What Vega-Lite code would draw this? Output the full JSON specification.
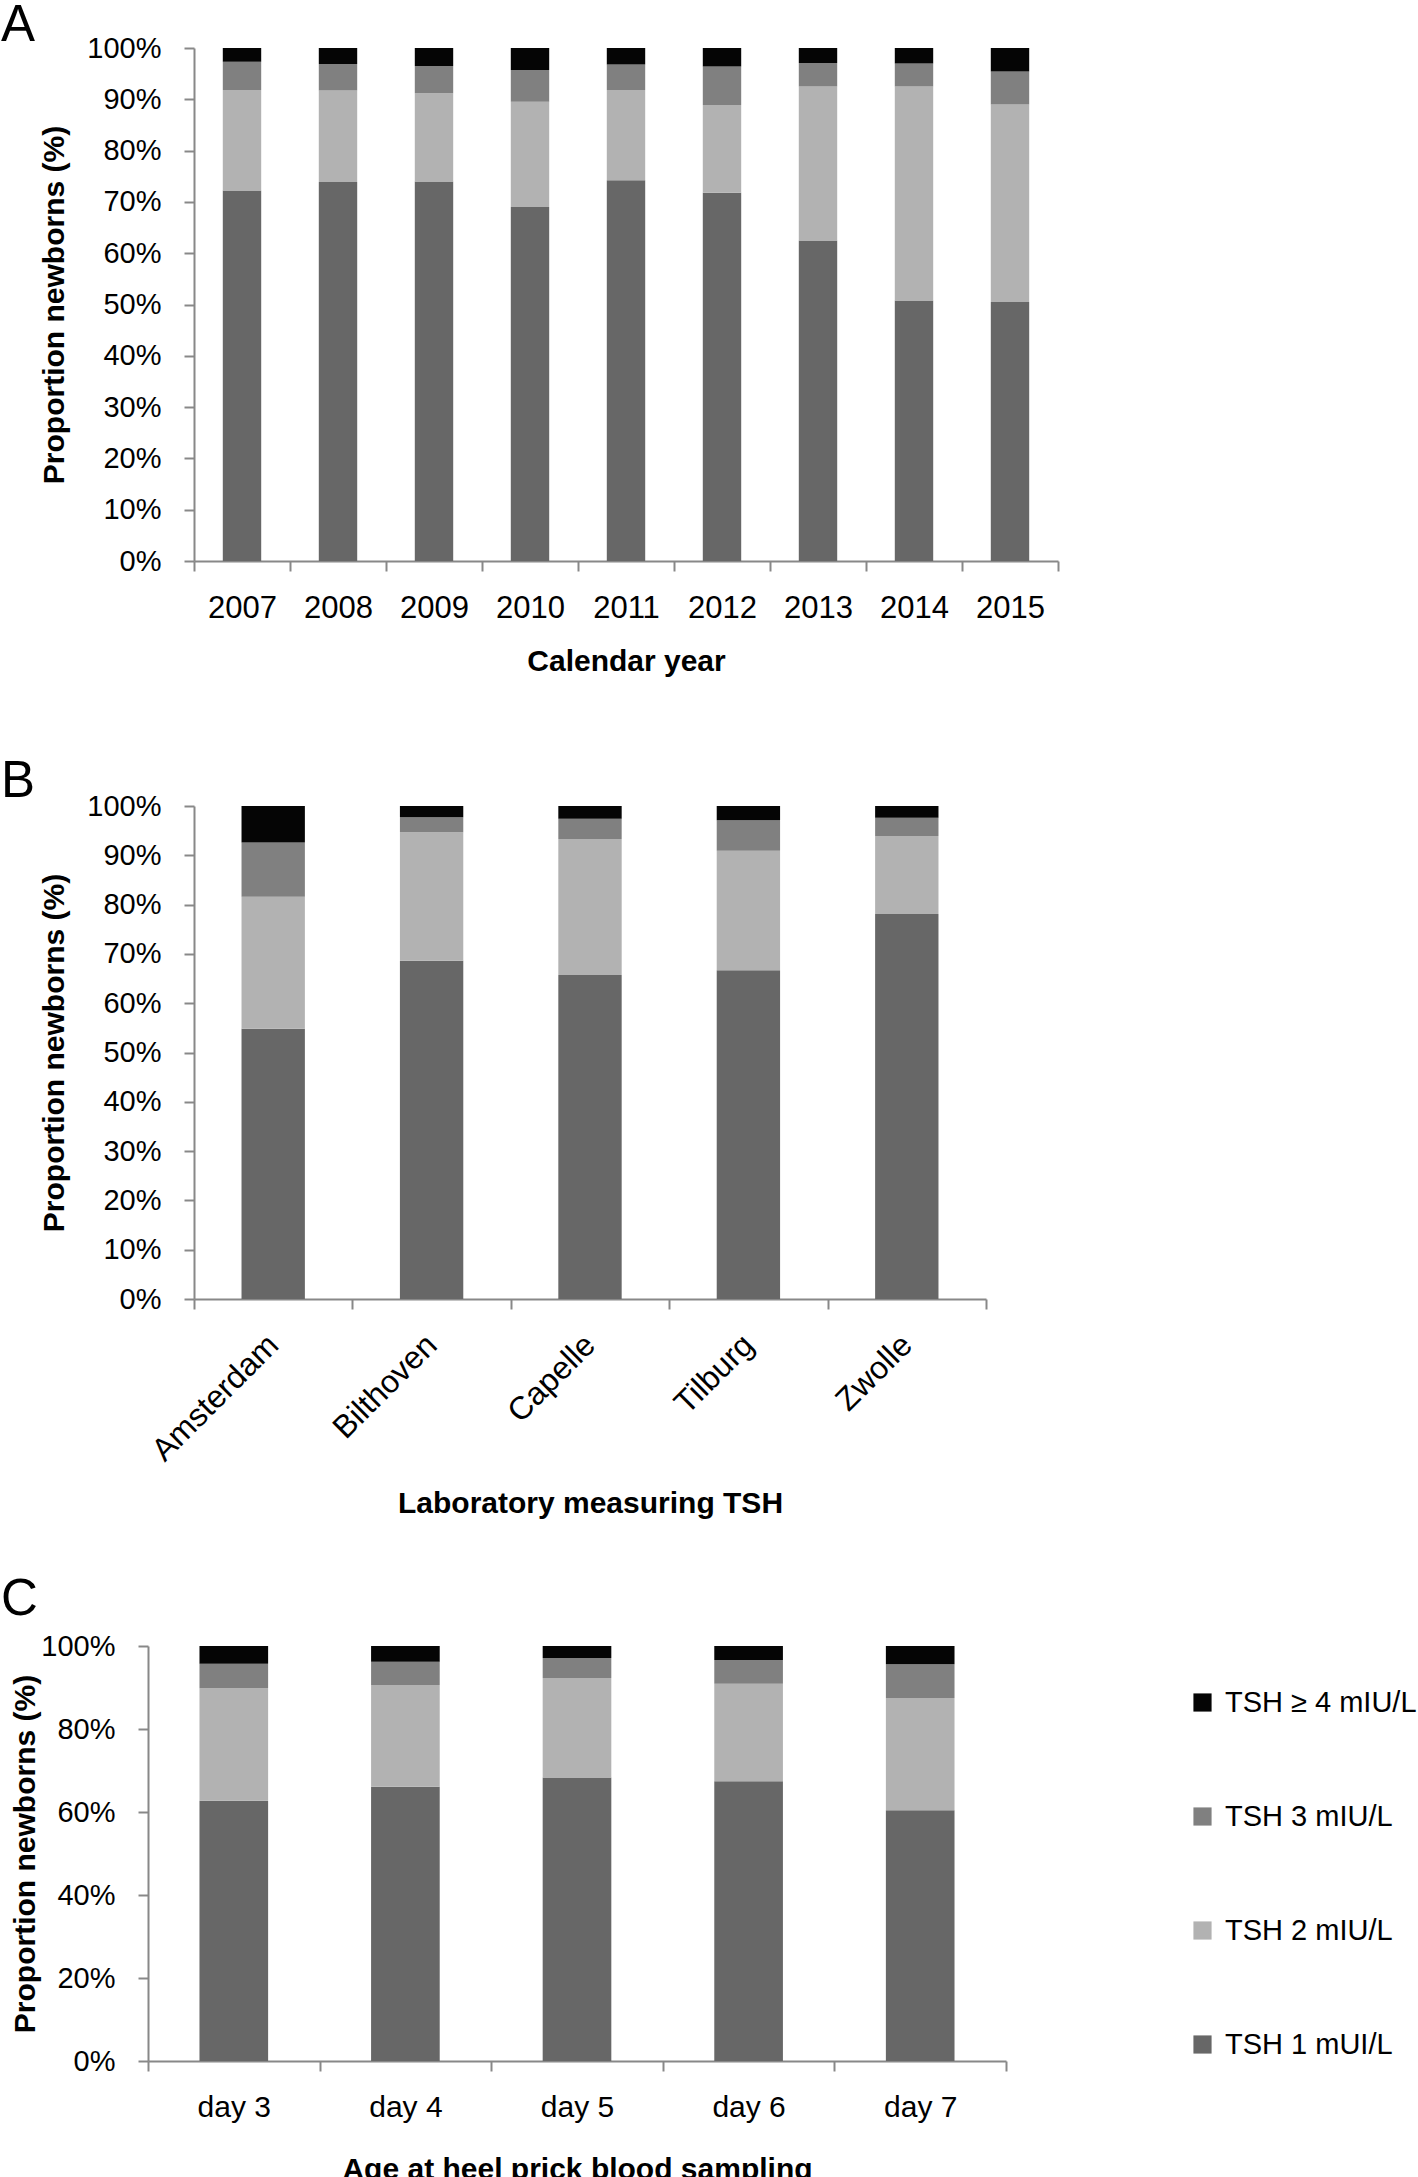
{
  "$schema": "https://vega.github.io/schema/vega-lite/v6.json",
  "padding": 0,
  "background": "white",
  "config": {
    "view": {"stroke": null},
    "font": "Liberation Sans",
    "axis": {
      "domainColor": "#888888", "domainWidth": 2,
      "tickColor": "#888888", "tickWidth": 2, "tickSize": 10,
      "labelColor": "#000000", "titleColor": "#000000",
      "grid": false,
      "labelFont": "Liberation Sans", "titleFont": "Liberation Sans",
      "titleFontWeight": "bold", "titleFontSize": 30
    },
    "title": {"anchor": "start", "frame": "group", "fontSize": 51, "fontWeight": "normal", "baseline": "alphabetic", "offset": 0, "color": "#000000", "font": "Liberation Sans"},
    "bar": {"stroke": null}
  },
  "spacing": 80,
  "resolve": {"scale": {"color": "independent"}},
  "vconcat": [
    {
      "spacing": 0,
      "resolve": {"scale": {"color": "independent"}},
      "hconcat": [
        {"width": 1, "height": 1, "data": {"values": []}, "mark": {"type": "point", "opacity": 0, "size": 0}, "encoding": {}},
        {
          "width": 864, "height": 513,
          "title": {"text": "A", "dx": -193, "dy": 22},
          "data": {"values": [
            {"group": "2007", "level": "TSH 1 mUI/L", "k": 1, "pct": 72.2},
            {"group": "2007", "level": "TSH 2 mIU/L", "k": 2, "pct": 19.6},
            {"group": "2007", "level": "TSH 3 mIU/L", "k": 3, "pct": 5.5},
            {"group": "2007", "level": "TSH ≥ 4 mIU/L", "k": 4, "pct": 2.7},
            {"group": "2008", "level": "TSH 1 mUI/L", "k": 1, "pct": 73.9},
            {"group": "2008", "level": "TSH 2 mIU/L", "k": 2, "pct": 17.8},
            {"group": "2008", "level": "TSH 3 mIU/L", "k": 3, "pct": 5.2},
            {"group": "2008", "level": "TSH ≥ 4 mIU/L", "k": 4, "pct": 3.1},
            {"group": "2009", "level": "TSH 1 mUI/L", "k": 1, "pct": 74.0},
            {"group": "2009", "level": "TSH 2 mIU/L", "k": 2, "pct": 17.2},
            {"group": "2009", "level": "TSH 3 mIU/L", "k": 3, "pct": 5.3},
            {"group": "2009", "level": "TSH ≥ 4 mIU/L", "k": 4, "pct": 3.5},
            {"group": "2010", "level": "TSH 1 mUI/L", "k": 1, "pct": 69.0},
            {"group": "2010", "level": "TSH 2 mIU/L", "k": 2, "pct": 20.5},
            {"group": "2010", "level": "TSH 3 mIU/L", "k": 3, "pct": 6.2},
            {"group": "2010", "level": "TSH ≥ 4 mIU/L", "k": 4, "pct": 4.3},
            {"group": "2011", "level": "TSH 1 mUI/L", "k": 1, "pct": 74.2},
            {"group": "2011", "level": "TSH 2 mIU/L", "k": 2, "pct": 17.6},
            {"group": "2011", "level": "TSH 3 mIU/L", "k": 3, "pct": 5.0},
            {"group": "2011", "level": "TSH ≥ 4 mIU/L", "k": 4, "pct": 3.2},
            {"group": "2012", "level": "TSH 1 mUI/L", "k": 1, "pct": 71.8},
            {"group": "2012", "level": "TSH 2 mIU/L", "k": 2, "pct": 17.1},
            {"group": "2012", "level": "TSH 3 mIU/L", "k": 3, "pct": 7.5},
            {"group": "2012", "level": "TSH ≥ 4 mIU/L", "k": 4, "pct": 3.6},
            {"group": "2013", "level": "TSH 1 mUI/L", "k": 1, "pct": 62.5},
            {"group": "2013", "level": "TSH 2 mIU/L", "k": 2, "pct": 30.0},
            {"group": "2013", "level": "TSH 3 mIU/L", "k": 3, "pct": 4.6},
            {"group": "2013", "level": "TSH ≥ 4 mIU/L", "k": 4, "pct": 2.9},
            {"group": "2014", "level": "TSH 1 mUI/L", "k": 1, "pct": 50.8},
            {"group": "2014", "level": "TSH 2 mIU/L", "k": 2, "pct": 41.7},
            {"group": "2014", "level": "TSH 3 mIU/L", "k": 3, "pct": 4.5},
            {"group": "2014", "level": "TSH ≥ 4 mIU/L", "k": 4, "pct": 3.0},
            {"group": "2015", "level": "TSH 1 mUI/L", "k": 1, "pct": 50.5},
            {"group": "2015", "level": "TSH 2 mIU/L", "k": 2, "pct": 38.5},
            {"group": "2015", "level": "TSH 3 mIU/L", "k": 3, "pct": 6.4},
            {"group": "2015", "level": "TSH ≥ 4 mIU/L", "k": 4, "pct": 4.6}
          ]},
          "mark": {"type": "bar", "width": {"band": 0.4}},
          "encoding": {
            "x": {"field": "group", "type": "ordinal", "scale": {"paddingInner": 0, "paddingOuter": 0},
              "axis": {"title": "Calendar year", "labelAngle": 0, "labelFontSize": 31, "labelPadding": 22, "titlePadding": 23, "tickBand": "extent"}},
            "y": {"field": "pct", "type": "quantitative", "stack": "zero", "scale": {"domain": [0, 100], "nice": false},
              "axis": {"title": "Proportion newborns (%)", "values": [0, 10, 20, 30, 40, 50, 60, 70, 80, 90, 100], "labelExpr": "datum.value + '%'", "labelFontSize": 29, "labelPadding": 23, "titlePadding": 17}},
            "color": {"field": "level", "type": "nominal",
              "scale": {"domain": ["TSH ≥ 4 mIU/L", "TSH 3 mIU/L", "TSH 2 mIU/L", "TSH 1 mUI/L"], "range": ["#050505", "#808080", "#b2b2b2", "#676767"]},
              "legend": null},
            "order": {"field": "k", "type": "quantitative"}
          }
        }
      ]
    },
    {
      "spacing": 55,
      "resolve": {"scale": {"color": "independent"}},
      "vconcat": [
        {
          "spacing": 0,
          "resolve": {"scale": {"color": "independent"}},
          "hconcat": [
            {"width": 1, "height": 1, "data": {"values": []}, "mark": {"type": "point", "opacity": 0, "size": 0}, "encoding": {}},
            {
              "width": 792, "height": 493,
              "title": {"text": "B", "dx": -193, "dy": 20},
              "data": {"values": [
                {"group": "Amsterdam", "level": "TSH 1 mUI/L", "k": 1, "pct": 54.8},
                {"group": "Amsterdam", "level": "TSH 2 mIU/L", "k": 2, "pct": 26.8},
                {"group": "Amsterdam", "level": "TSH 3 mIU/L", "k": 3, "pct": 11.0},
                {"group": "Amsterdam", "level": "TSH ≥ 4 mIU/L", "k": 4, "pct": 7.4},
                {"group": "Bilthoven", "level": "TSH 1 mUI/L", "k": 1, "pct": 68.6},
                {"group": "Bilthoven", "level": "TSH 2 mIU/L", "k": 2, "pct": 26.1},
                {"group": "Bilthoven", "level": "TSH 3 mIU/L", "k": 3, "pct": 3.0},
                {"group": "Bilthoven", "level": "TSH ≥ 4 mIU/L", "k": 4, "pct": 2.3},
                {"group": "Capelle", "level": "TSH 1 mUI/L", "k": 1, "pct": 65.7},
                {"group": "Capelle", "level": "TSH 2 mIU/L", "k": 2, "pct": 27.6},
                {"group": "Capelle", "level": "TSH 3 mIU/L", "k": 3, "pct": 4.1},
                {"group": "Capelle", "level": "TSH ≥ 4 mIU/L", "k": 4, "pct": 2.6},
                {"group": "Tilburg", "level": "TSH 1 mUI/L", "k": 1, "pct": 66.7},
                {"group": "Tilburg", "level": "TSH 2 mIU/L", "k": 2, "pct": 24.2},
                {"group": "Tilburg", "level": "TSH 3 mIU/L", "k": 3, "pct": 6.2},
                {"group": "Tilburg", "level": "TSH ≥ 4 mIU/L", "k": 4, "pct": 2.9},
                {"group": "Zwolle", "level": "TSH 1 mUI/L", "k": 1, "pct": 78.1},
                {"group": "Zwolle", "level": "TSH 2 mIU/L", "k": 2, "pct": 15.8},
                {"group": "Zwolle", "level": "TSH 3 mIU/L", "k": 3, "pct": 3.7},
                {"group": "Zwolle", "level": "TSH ≥ 4 mIU/L", "k": 4, "pct": 2.4}
              ]},
              "mark": {"type": "bar", "width": {"band": 0.4}},
              "encoding": {
                "x": {"field": "group", "type": "nominal", "scale": {"paddingInner": 0, "paddingOuter": 0},
                  "axis": {"title": "Laboratory measuring TSH", "labelAngle": -45, "labelAlign": "right", "labelBaseline": "top", "labelFontSize": 32, "labelPadding": 20, "labelOffset": -11, "titlePadding": 22, "tickBand": "extent"}},
                "y": {"field": "pct", "type": "quantitative", "stack": "zero", "scale": {"domain": [0, 100], "nice": false},
                  "axis": {"title": "Proportion newborns (%)", "values": [0, 10, 20, 30, 40, 50, 60, 70, 80, 90, 100], "labelExpr": "datum.value + '%'", "labelFontSize": 29, "labelPadding": 23, "titlePadding": 17}},
                "color": {"field": "level", "type": "nominal",
                  "scale": {"domain": ["TSH ≥ 4 mIU/L", "TSH 3 mIU/L", "TSH 2 mIU/L", "TSH 1 mUI/L"], "range": ["#050505", "#808080", "#b2b2b2", "#676767"]},
                  "legend": null},
                "order": {"field": "k", "type": "quantitative"}
              }
            }
          ]
        },
        {
          "spacing": 0,
          "resolve": {"scale": {"color": "independent"}},
          "hconcat": [
            {"width": 1, "height": 1, "data": {"values": []}, "mark": {"type": "point", "opacity": 0, "size": 0}, "encoding": {}},
            {
              "width": 858, "height": 415,
              "title": {"text": "C", "dx": -147, "dy": -2},
              "data": {"values": [
                {"group": "day 3", "level": "TSH 1 mUI/L", "k": 1, "pct": 62.7},
                {"group": "day 3", "level": "TSH 2 mIU/L", "k": 2, "pct": 27.1},
                {"group": "day 3", "level": "TSH 3 mIU/L", "k": 3, "pct": 5.9},
                {"group": "day 3", "level": "TSH ≥ 4 mIU/L", "k": 4, "pct": 4.3},
                {"group": "day 4", "level": "TSH 1 mUI/L", "k": 1, "pct": 66.1},
                {"group": "day 4", "level": "TSH 2 mIU/L", "k": 2, "pct": 24.5},
                {"group": "day 4", "level": "TSH 3 mIU/L", "k": 3, "pct": 5.6},
                {"group": "day 4", "level": "TSH ≥ 4 mIU/L", "k": 4, "pct": 3.8},
                {"group": "day 5", "level": "TSH 1 mUI/L", "k": 1, "pct": 68.3},
                {"group": "day 5", "level": "TSH 2 mIU/L", "k": 2, "pct": 24.0},
                {"group": "day 5", "level": "TSH 3 mIU/L", "k": 3, "pct": 4.8},
                {"group": "day 5", "level": "TSH ≥ 4 mIU/L", "k": 4, "pct": 2.9},
                {"group": "day 6", "level": "TSH 1 mUI/L", "k": 1, "pct": 67.4},
                {"group": "day 6", "level": "TSH 2 mIU/L", "k": 2, "pct": 23.5},
                {"group": "day 6", "level": "TSH 3 mIU/L", "k": 3, "pct": 5.7},
                {"group": "day 6", "level": "TSH ≥ 4 mIU/L", "k": 4, "pct": 3.4},
                {"group": "day 7", "level": "TSH 1 mUI/L", "k": 1, "pct": 60.4},
                {"group": "day 7", "level": "TSH 2 mIU/L", "k": 2, "pct": 27.1},
                {"group": "day 7", "level": "TSH 3 mIU/L", "k": 3, "pct": 8.1},
                {"group": "day 7", "level": "TSH ≥ 4 mIU/L", "k": 4, "pct": 4.4}
              ]},
              "mark": {"type": "bar", "width": {"band": 0.4}},
              "encoding": {
                "x": {"field": "group", "type": "nominal", "scale": {"paddingInner": 0, "paddingOuter": 0},
                  "axis": {"title": "Age at heel prick blood sampling", "labelAngle": 0, "labelFontSize": 30, "labelPadding": 21, "titlePadding": 32, "tickBand": "extent"}},
                "y": {"field": "pct", "type": "quantitative", "stack": "zero", "scale": {"domain": [0, 100], "nice": false},
                  "axis": {"title": "Proportion newborns (%)", "titleFontSize": 30, "values": [0, 20, 40, 60, 80, 100], "labelExpr": "datum.value + '%'", "labelFontSize": 29, "labelPadding": 23, "titlePadding": 0}},
                "color": {"field": "level", "type": "nominal",
                  "scale": {"domain": ["TSH ≥ 4 mIU/L", "TSH 3 mIU/L", "TSH 2 mIU/L", "TSH 1 mUI/L"], "range": ["#050505", "#808080", "#b2b2b2", "#676767"]},
                  "legend": {"title": null, "orient": "none", "legendX": 1040, "legendY": 42, "padding": 0, "rowPadding": 84, "labelFontSize": 29, "labelFont": "Liberation Sans", "labelColor": "#000000", "symbolType": "square", "symbolSize": 330, "symbolStrokeWidth": 0, "symbolOpacity": 1, "labelOffset": 8, "labelLimit": 400}},
                "order": {"field": "k", "type": "quantitative"}
              }
            }
          ]
        }
      ]
    }
  ]
}
